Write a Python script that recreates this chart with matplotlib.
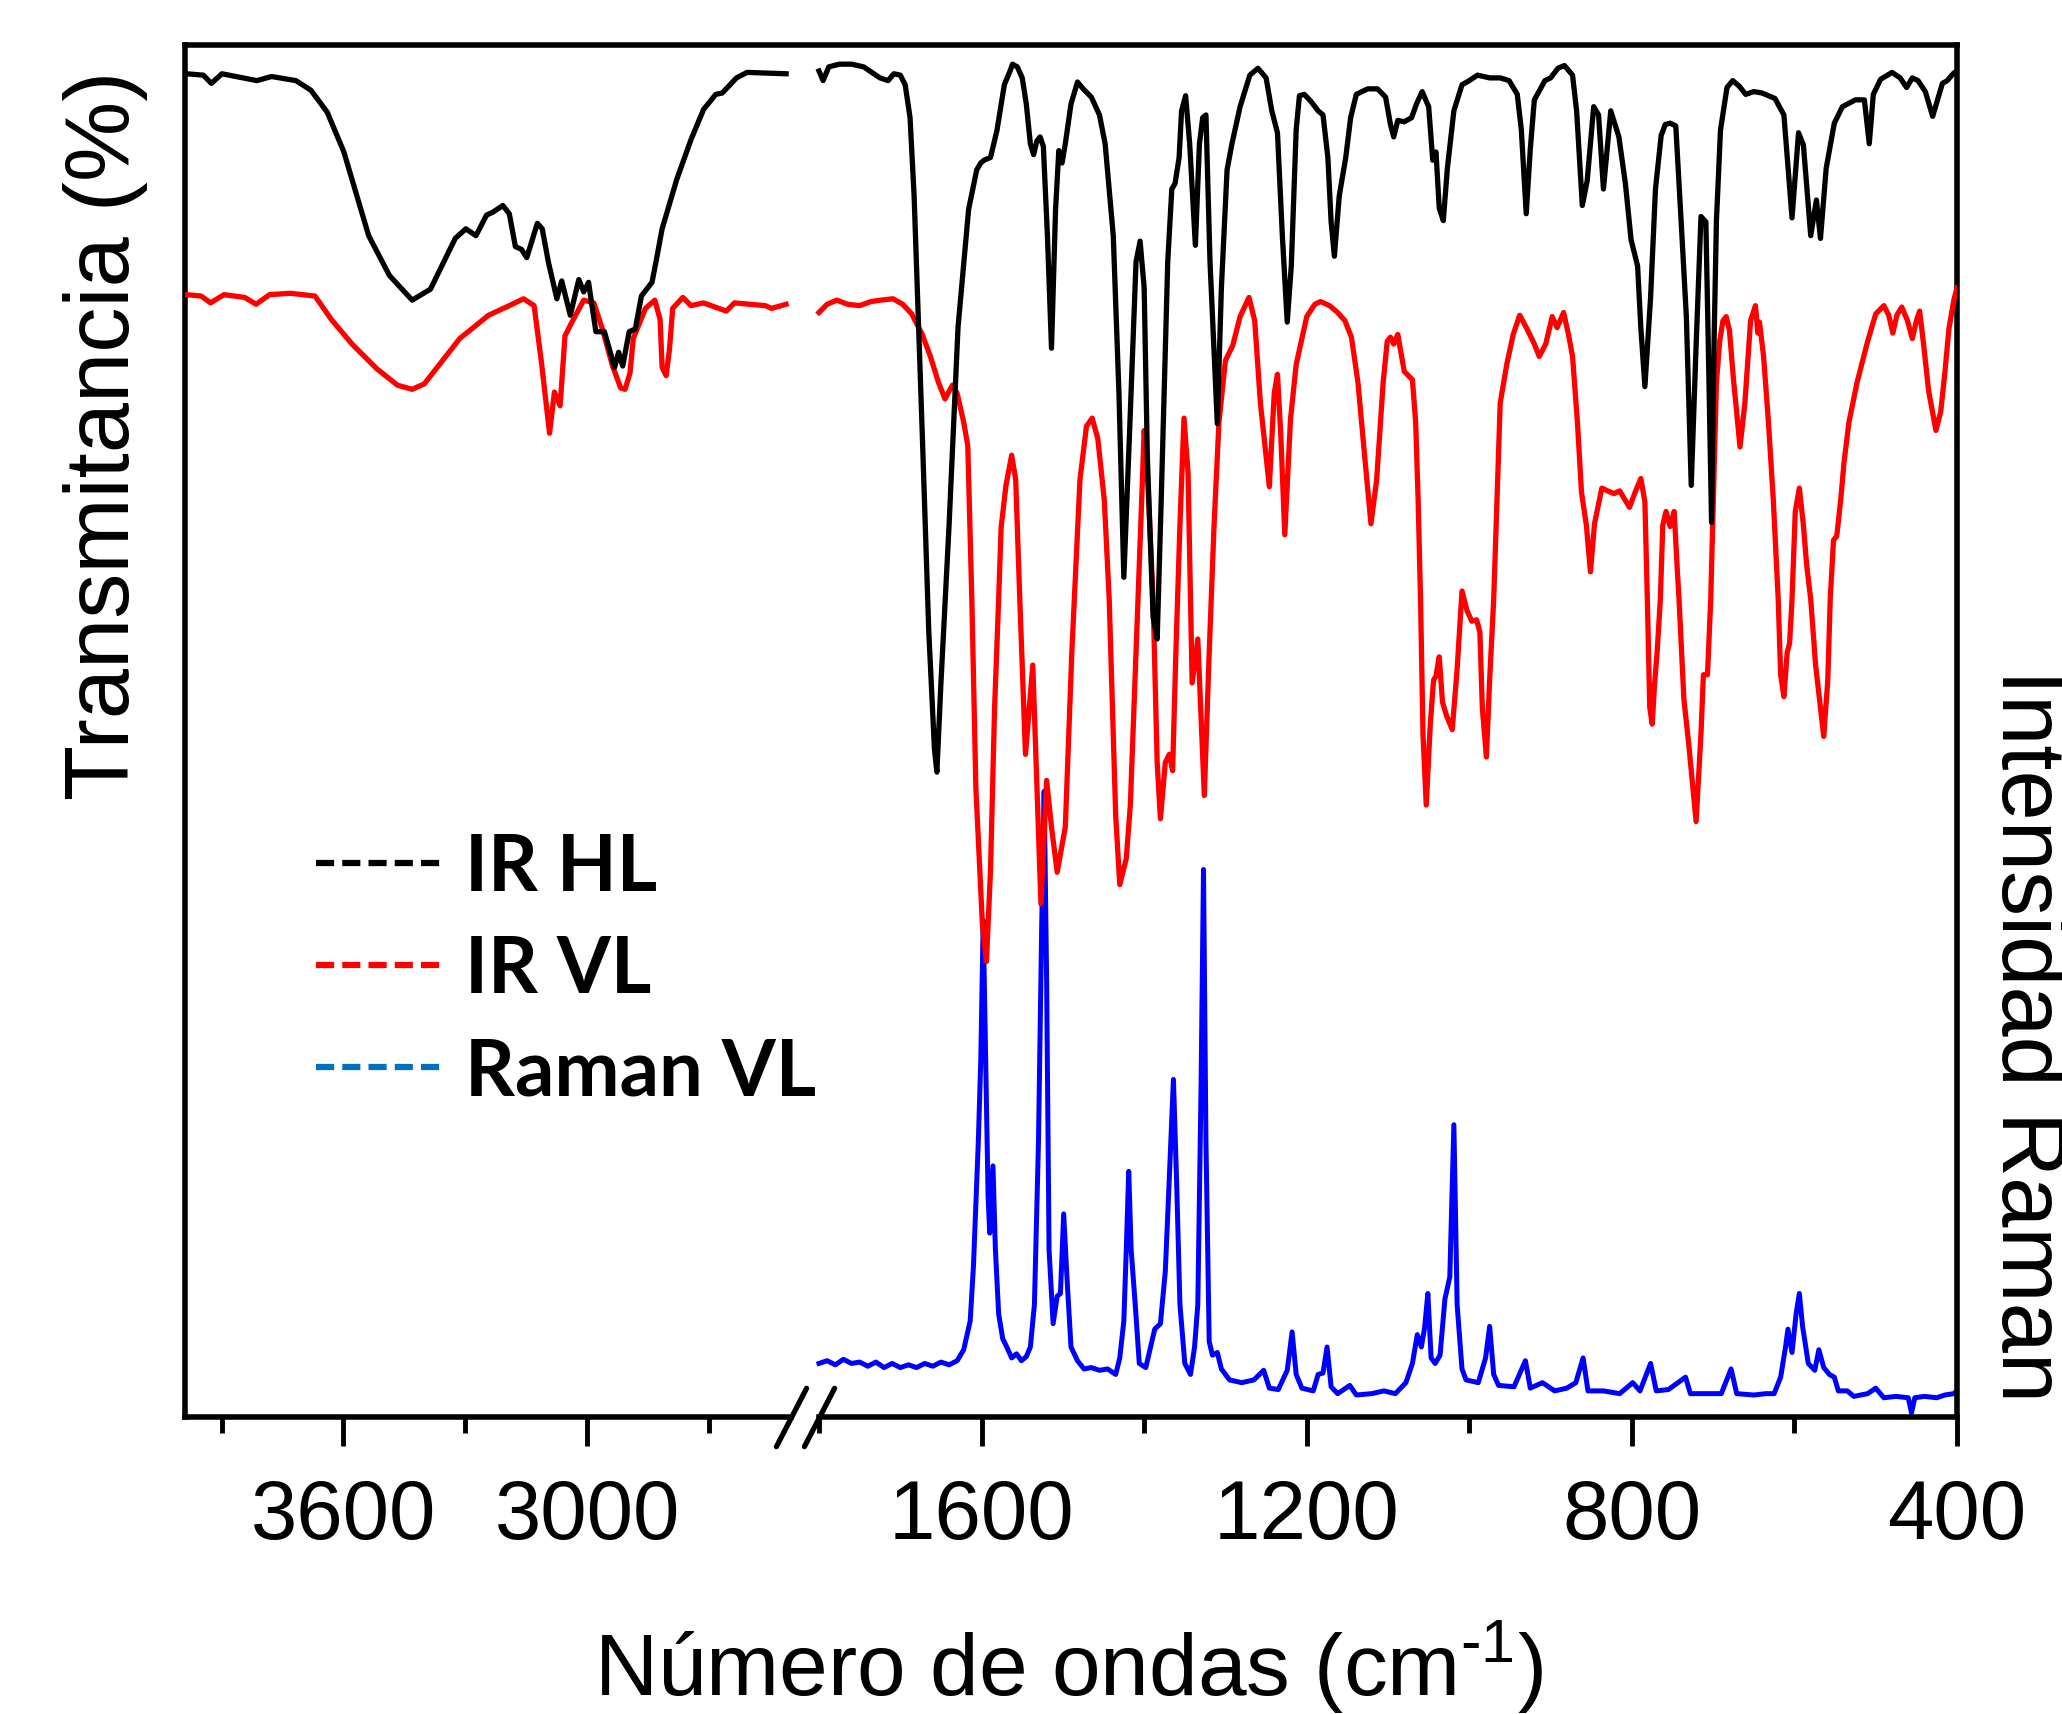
import numpy as np
import matplotlib
matplotlib.use("Agg")
import matplotlib.pyplot as plt
from matplotlib.lines import Line2D
from matplotlib.markers import MarkerStyle

plt.rcParams['font.family'] = ['Liberation Sans', 'DejaVu Sans']
plt.rcParams['mathtext.fontset'] = 'custom'
plt.rcParams['mathtext.rm'] = 'Liberation Sans'
plt.rcParams['mathtext.default'] = 'regular'

# ---------------- data (wavenumber cm-1, relative value 0-100) ----------------
ir_hl_hi_x = [3995, 3986, 3945, 3925, 3899, 3813, 3777, 3717, 3680, 3640, 3599, 3538, 3487, 3431, 3386,
              3325, 3299, 3274, 3248, 3233, 3208, 3192, 3177, 3162, 3149, 3123, 3111, 3096, 3075, 3063,
              3042, 3021, 3009, 2997, 2979, 2958, 2933, 2923, 2913, 2897, 2882, 2867, 2841, 2831, 2816,
              2780, 2745, 2714, 2684, 2668, 2633, 2607, 2511]
ir_hl_hi_y = [97.9, 97.9, 97.8, 97.2, 97.9, 97.4, 97.7, 97.4, 96.7, 95.1, 92.2, 86.1, 83.2, 81.4, 82.2,
              85.9, 86.6, 86.1, 87.6, 87.8, 88.3, 87.7, 85.3, 85.1, 84.5, 87.0, 86.6, 84.2, 81.5, 82.8,
              80.3, 82.9, 82.0, 82.7, 79.1, 79.1, 76.5, 77.6, 76.6, 79.1, 79.3, 81.7, 82.7, 84.2, 86.6,
              90.2, 93.1, 95.3, 96.4, 96.5, 97.6, 98.0, 97.9]

ir_vl_hi_x = [3995, 3986, 3950, 3927, 3894, 3843, 3815, 3782, 3731, 3670, 3630, 3579, 3518, 3467, 3431,
              3401, 3314, 3243, 3192, 3157, 3131, 3113, 3093, 3081, 3067, 3055, 3038, 3009, 2984, 2963,
              2938, 2918, 2907, 2895, 2887, 2857, 2834, 2821, 2816, 2806, 2798, 2790, 2765, 2745, 2714,
              2658, 2638, 2562, 2547, 2511]
ir_vl_hi_y = [81.8, 81.8, 81.7, 81.2, 81.8, 81.6, 81.1, 81.8, 81.9, 81.7, 80.0, 78.2, 76.4, 75.2, 74.9,
              75.3, 78.6, 80.3, 81.0, 81.5, 81.0, 76.9, 71.7, 74.7, 73.7, 78.8, 79.8, 81.4, 81.2, 79.3,
              76.6, 75.0, 74.9, 76.1, 78.6, 80.8, 81.4, 80.0, 76.5, 75.9, 77.8, 80.8, 81.6, 81.0, 81.2,
              80.6, 81.2, 81.0, 80.8, 81.1]

ir_hl_lo_x = [1800, 1795, 1788, 1775, 1760, 1745, 1735, 1725, 1715, 1708, 1700, 1694, 1688, 1683, 1673,
              1665, 1658, 1655, 1650, 1640, 1629, 1616, 1606, 1601, 1597, 1589, 1581, 1572, 1565, 1562,
              1556, 1550, 1545, 1540, 1536, 1532, 1528, 1524, 1519, 1514, 1509, 1505, 1501, 1497, 1490,
              1482, 1475, 1465, 1455, 1448, 1438, 1431, 1425, 1418, 1410, 1405, 1400, 1396, 1389, 1384,
              1379, 1371, 1366, 1362, 1357, 1354, 1349, 1344, 1337, 1332, 1328, 1324, 1319, 1310, 1305,
              1298, 1292, 1282, 1270, 1260, 1250, 1243, 1236, 1230, 1224, 1219, 1213, 1209, 1203, 1195,
              1186, 1180, 1174, 1170, 1166, 1160, 1152, 1146, 1139, 1125, 1113, 1103, 1097, 1093, 1088,
              1080, 1071, 1065, 1058, 1050, 1045, 1041, 1037, 1032, 1027, 1019, 1009, 1000, 990, 975,
              962, 951, 941, 936, 930, 925, 920, 907, 900, 891, 883, 873, 868, 861, 855,
              847, 841, 835, 826, 816, 808, 801, 793, 789, 784, 777, 771, 764, 759, 753,
              746, 739, 733, 727, 721, 715, 709, 706, 702, 699, 696, 691, 683, 676, 668,
              660, 650, 640, 624, 613, 603, 595, 589, 580, 573, 568, 561, 551, 541, 525,
              514, 508, 503, 494, 480, 470, 462, 455, 448, 439, 430, 418, 412, 405, 400]
ir_hl_lo_y = [98.1, 97.4, 98.4, 98.6, 98.6, 98.4, 98.0, 97.6, 97.4, 97.9, 97.8, 97.1, 94.7, 89.0, 71.7,
              57.3, 48.7, 47.0, 53.5, 65.0, 79.4, 88.0, 90.9, 91.4, 91.6, 91.8, 93.8, 97.1, 98.1, 98.6,
              98.4, 97.6, 95.7, 92.8, 92.0, 93.0, 93.3, 92.6, 86.1, 77.9, 88.0, 92.3, 91.4, 92.8, 95.7,
              97.3, 96.8, 96.2, 94.9, 92.8, 86.1, 74.6, 61.2, 71.7, 84.2, 85.7, 82.3, 69.8, 58.3, 56.7,
              66.9, 84.2, 89.5, 89.9, 91.8, 95.2, 96.3, 92.8, 85.4, 92.8, 94.7, 94.9, 84.2, 72.4, 82.3,
              90.9, 92.8, 95.5, 97.8, 98.3, 97.6, 95.2, 93.6, 86.1, 79.8, 83.9, 93.8, 96.3, 96.4, 95.9,
              95.2, 94.9, 91.8, 87.1, 84.6, 89.0, 91.8, 94.7, 96.4, 96.8, 96.8, 96.2, 94.2, 93.3, 94.5,
              94.4, 94.7, 95.7, 96.6, 95.5, 91.6, 92.2, 88.1, 87.2, 91.0, 95.2, 97.1, 97.4, 97.8, 97.6,
              97.6, 97.4, 96.4, 93.8, 87.7, 92.4, 96.0, 97.4, 97.6, 98.3, 98.5, 97.8, 95.2, 88.3, 90.1,
              95.5, 94.9, 89.5, 95.2, 93.3, 89.9, 85.8, 83.9, 79.4, 75.1, 81.6, 89.5, 93.4, 94.2, 94.3,
              94.1, 86.7, 80.2, 67.9, 78.1, 87.5, 87.1, 78.1, 65.2, 78.1, 87.2, 93.8, 96.9, 97.4, 97.0,
              96.4, 96.6, 96.5, 96.1, 94.9, 87.4, 93.6, 92.7, 86.1, 88.7, 85.9, 91.0, 94.3, 95.5, 96.0,
              96.0, 92.8, 96.4, 97.5, 98.0, 97.6, 96.9, 97.6, 97.4, 96.6, 94.8, 97.2, 97.4, 97.9, 98.1]

ir_vl_lo_x = [1801, 1790, 1778, 1765, 1750, 1736, 1724, 1709, 1697, 1686, 1673, 1663, 1653, 1645, 1636,
              1630, 1622, 1617, 1612, 1607, 1599, 1594, 1589, 1584, 1579, 1576, 1570, 1563, 1558, 1553,
              1546, 1537, 1527, 1520, 1514, 1507, 1497, 1489, 1479, 1471, 1464, 1457, 1449, 1443, 1435,
              1430, 1422, 1417, 1410, 1403, 1400, 1396, 1389, 1384, 1380, 1374, 1369, 1365, 1361, 1356,
              1351, 1346, 1341, 1334, 1326, 1320, 1314, 1308, 1300, 1291, 1282, 1271, 1264, 1257, 1246,
              1240, 1236, 1232, 1227, 1220, 1213, 1200, 1190, 1183, 1172, 1162, 1153, 1145, 1137, 1129,
              1121, 1114, 1106, 1101, 1097, 1093, 1088, 1080, 1075, 1070, 1066, 1063, 1060, 1057, 1053,
              1048, 1044, 1041, 1037, 1033, 1028, 1021, 1015, 1009, 1003, 997, 991, 987, 984, 979,
              975, 970, 962, 954, 946, 938, 929, 920, 914, 906, 898, 892, 884, 878, 873,
              867, 862, 856, 851, 846, 837, 830, 822, 815, 808, 803, 796, 789, 784, 781,
              778, 775, 772, 769, 765, 762, 758, 753, 748, 744, 742, 736, 730, 721, 715,
              712, 707, 703, 696, 692, 688, 684, 680, 675, 667, 661, 654, 648, 645, 643,
              638, 632, 626, 620, 617, 613, 609, 606, 603, 599, 594, 589, 585, 580, 574,
              568, 564, 559, 556, 552, 548, 543, 539, 533, 523, 510, 500, 490, 484, 479,
              474, 468, 461, 455, 450, 446, 441, 435, 426, 420, 415, 410, 404, 400]
ir_vl_lo_y = [80.5, 81.1, 81.4, 81.1, 81.0, 81.3, 81.4, 81.5, 81.1, 80.4, 78.9, 77.3, 75.4, 74.2, 75.2,
              74.6, 72.5, 70.8, 59.6, 45.8, 35.9, 33.2, 39.9, 51.7, 59.6, 64.8, 67.9, 70.1, 68.3, 59.6,
              48.3, 54.8, 37.4, 46.4, 43.0, 39.7, 43.0, 55.7, 68.3, 72.2, 72.8, 71.3, 66.8, 59.6, 43.8,
              38.8, 40.7, 44.6, 55.7, 66.9, 71.9, 68.8, 59.6, 47.7, 43.6, 47.7, 48.3, 47.1, 55.7, 65.0,
              72.8, 68.8, 53.5, 56.7, 45.3, 55.7, 65.0, 72.5, 77.0, 78.1, 80.2, 81.6, 79.9, 73.9, 67.8,
              74.6, 76.0, 71.7, 64.3, 72.7, 76.7, 80.2, 81.1, 81.3, 81.0, 80.5, 79.9, 78.7, 75.4, 70.2,
              65.1, 68.3, 75.4, 78.4, 78.7, 78.2, 78.9, 76.2, 75.9, 75.6, 72.5, 66.9, 59.6, 49.8, 44.6,
              50.5, 53.7, 54.0, 55.4, 52.1, 51.1, 50.1, 54.5, 60.2, 58.8, 58.0, 58.1, 57.2, 51.7, 48.1,
              53.7, 59.6, 73.9, 76.7, 78.9, 80.3, 79.3, 78.2, 77.3, 78.2, 80.2, 79.4, 80.5, 78.9, 77.3,
              72.5, 67.4, 65.0, 61.6, 65.1, 67.7, 67.5, 67.3, 67.5, 66.8, 66.3, 67.4, 68.4, 66.7, 59.6,
              51.7, 50.5, 53.5, 55.7, 59.6, 65.0, 66.0, 64.9, 66.0, 61.6, 59.6, 52.3, 49.0, 43.4, 49.8,
              54.1, 54.1, 59.6, 75.4, 78.4, 79.9, 80.2, 79.2, 75.6, 70.7, 73.9, 79.9, 81.0, 79.0, 79.8,
              77.3, 72.5, 66.8, 59.6, 54.1, 52.5, 55.7, 56.4, 59.6, 66.0, 67.7, 65.0, 62.1, 59.6, 54.8,
              51.7, 49.6, 53.7, 59.6, 63.9, 64.2, 66.9, 69.6, 72.5, 75.4, 78.4, 80.4, 81.0, 80.3, 79.0,
              80.3, 80.9, 79.9, 78.6, 79.9, 80.6, 78.1, 74.8, 71.9, 73.3, 76.1, 79.3, 81.4, 82.3]

raman_vl_x = [1801, 1790, 1780, 1770, 1760, 1750, 1740, 1730, 1720, 1710, 1700, 1690, 1680, 1670, 1660,
              1650, 1640, 1630, 1622, 1614, 1610, 1604, 1601, 1598, 1595, 1592, 1590, 1586, 1583, 1579,
              1574, 1569, 1563, 1557, 1551, 1545, 1540, 1535, 1530, 1526, 1523, 1520, 1517, 1512, 1507,
              1503, 1499, 1495, 1490, 1482, 1474, 1465, 1455, 1445, 1435, 1430, 1425, 1422, 1419, 1416,
              1411, 1406, 1398, 1387, 1380, 1374, 1370, 1364, 1360, 1356, 1350, 1343, 1338, 1334, 1330,
              1327, 1324, 1320, 1316, 1310, 1305, 1295, 1280, 1265, 1253, 1246, 1235, 1224, 1218, 1213,
              1206, 1192, 1186, 1180, 1175, 1170, 1162, 1147, 1139, 1120, 1105, 1091, 1078, 1070, 1064,
              1059, 1055, 1051, 1047, 1042, 1036, 1030, 1024, 1019, 1015, 1009, 1004, 989, 980, 975,
              970, 964, 945, 931, 925, 910, 895, 880, 869, 860, 854, 835, 815, 799, 790,
              777, 770, 755, 734, 728, 710, 690, 678, 671, 650, 635, 625, 617, 611, 608,
              603, 598, 594, 590, 583, 575, 570, 564, 557, 551, 546, 535, 527, 510, 500,
              490, 475, 460, 456, 452, 440, 425, 415, 404, 400]
raman_vl_y = [3.9, 4.1, 3.8, 4.2, 3.9, 4.0, 3.7, 4.0, 3.6, 3.9, 3.6, 3.8, 3.6, 3.9, 3.7,
              4.0, 3.8, 4.1, 4.9, 7.0, 11.0, 20.1, 26.0, 36.2, 26.0, 16.1, 13.4, 18.3, 12.2, 7.5,
              5.7, 5.1, 4.3, 4.6, 4.1, 4.4, 5.1, 8.2, 20.1, 36.0, 45.6, 31.9, 12.2, 6.8, 8.8,
              9.0, 14.8, 10.2, 5.1, 4.1, 3.5, 3.6, 3.4, 3.5, 3.1, 4.3, 7.0, 12.2, 17.9, 12.2,
              8.2, 3.9, 3.6, 6.4, 6.8, 10.6, 16.1, 24.6, 17.0, 8.2, 3.9, 3.1, 5.1, 8.2, 24.1,
              39.9, 20.1, 5.5, 4.5, 4.7, 3.5, 2.7, 2.5, 2.7, 3.4, 2.1, 2.0, 3.4, 6.2, 3.1,
              2.1, 1.9, 3.1, 3.2, 5.1, 2.2, 1.7, 2.3, 1.6, 1.7, 1.9, 1.7, 2.5, 3.9, 6.0,
              5.1, 6.5, 9.0, 4.3, 3.9, 4.5, 8.6, 10.2, 21.3, 8.2, 3.5, 2.7, 2.5, 4.3, 6.6,
              3.1, 2.3, 2.2, 4.1, 2.1, 2.5, 1.9, 2.1, 2.5, 4.3, 1.9, 1.9, 1.7, 2.5, 1.9,
              3.9, 1.9, 2.0, 2.9, 1.7, 1.7, 1.7, 3.5, 1.7, 1.6, 1.7, 1.7, 2.9, 5.1, 6.4,
              4.7, 7.5, 9.0, 6.6, 3.9, 3.4, 4.9, 3.6, 3.1, 2.9, 1.9, 1.9, 1.5, 1.7, 2.1,
              1.4, 1.5, 1.4, 0.3, 1.4, 1.5, 1.4, 1.6, 1.7, 1.9]

major_ticks = [3600, 3000, 1600, 1200, 800, 400]
minor_ticks = [3900, 3300, 2700, 1800, 1400, 1000, 600]
tick_labels = ['3600', '3000', '1600', '1200', '800', '400']
legend_labels = ['IR HL', 'IR VL', 'Raman VL']

# ---------------- broken-axis scale ----------------
def fwd(x):
    x = np.asarray(x, dtype=float)
    return np.where(x <= 1800, x,
                    np.where(x >= 2500, 1835 + (x - 2500) * 0.5, 1800 + (x - 1800) * 0.05))

def inv(u):
    u = np.asarray(u, dtype=float)
    return np.where(u <= 1800, u,
                    np.where(u >= 1835, 2500 + (u - 1835) * 2.0, 1800 + (u - 1800) / 0.05))

fig = plt.figure(figsize=(20.62, 17.15), dpi=100)
ax = fig.add_axes([0.0897, 0.1732, 0.8594, 0.8000])
ax.set_xscale('function', functions=(fwd, inv))

lw = 3.8
ax.plot(raman_vl_x, raman_vl_y, color='#0000FF', lw=3.6, zorder=2)
ax.plot(ir_vl_hi_x, ir_vl_hi_y, color='#FF0000', lw=lw, zorder=3)
ax.plot(ir_vl_lo_x, ir_vl_lo_y, color='#FF0000', lw=lw, zorder=3)
ax.plot(ir_hl_hi_x, ir_hl_hi_y, color='#000000', lw=lw, zorder=4)
ax.plot(ir_hl_lo_x, ir_hl_lo_y, color='#000000', lw=lw, zorder=4)

ax.set_xlim(3990, 400)
ax.set_ylim(0, 100)

ax.set_xticks(major_ticks)
ax.set_xticklabels(tick_labels)
ax.set_xticks(minor_ticks, minor=True)
ax.set_yticks([])
ax.tick_params(axis='x', which='major', direction='out', length=21, width=3.5, pad=22, labelsize=60)
ax.tick_params(axis='x', which='minor', direction='out', length=11.5, width=3.5)

for s in ['left', 'right', 'top']:
    ax.spines[s].set_linewidth(4)
ax.spines['bottom'].set_visible(False)

# bottom axis line in two parts with break marks
xt = ax.get_xaxis_transform()
ax.plot([3990, 2490], [0, 0], color='k', lw=4, transform=xt, clip_on=False, solid_capstyle='projecting', zorder=5)
ax.plot([1800, 400], [0, 0], color='k', lw=4, transform=xt, clip_on=False, solid_capstyle='projecting', zorder=5)
slash = MarkerStyle([(-0.517, -1.0), (0.517, 1.0)], capstyle='round')
ax.plot([2490, 1800], [0, 0], linestyle='none', marker=slash, markersize=42, mec='k', mew=3.8,
        transform=xt, clip_on=False, zorder=6)

# labels
fig.text(0.518, 0.011, 'Número de ondas (cm$^{\u20101}$)', fontsize=63, ha='center', va='baseline')
fig.text(0.051, 0.746, 'Transmitancia (%)', fontsize=65, rotation=90, ha='center', va='center')
fig.text(0.9822, 0.396, 'Intensidad Raman', fontsize=65, rotation=-90, ha='center', va='center')

# legend
handles = [Line2D([], [], color=c, lw=4.5, linestyle=(0, (2.9, 1.3)), dash_capstyle='butt')
           for c in ['#000000', '#FF0000', '#0070C0']]
fig.legend(handles, legend_labels, loc='upper left', bbox_to_anchor=(0.1533, 0.5143),
           frameon=False, borderpad=0, borderaxespad=0, handlelength=1.62, handletextpad=0.3,
           labelspacing=0.39, prop={'family': 'Lato', 'weight': 'bold', 'size': 56})

fig.savefig('out.png', dpi=100)
